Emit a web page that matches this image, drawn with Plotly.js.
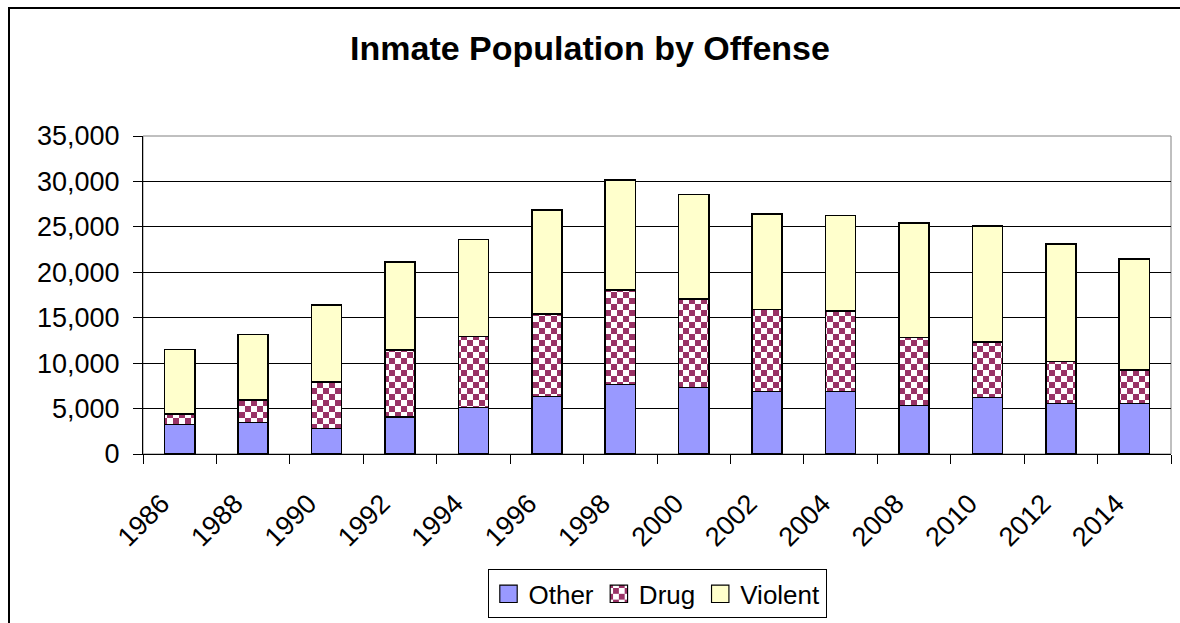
<!DOCTYPE html>
<html>
<head>
<meta charset="utf-8">
<script src="https://cdn.plot.ly/plotly-3.0.1.min.js"></script>
<style>
  html, body { margin: 0; padding: 0; background: #fff; overflow: hidden; }
  #wrap { position: relative; width: 1180px; height: 623px; }
  #chart { width: 1180px; height: 623px; }
  #frame { position: absolute; left: 8px; top: 7px; width: 1300px; height: 800px;
           border-left: 2px solid #000; border-top: 2px solid #000; pointer-events: none; }
</style>
</head>
<body>
<svg width="0" height="0" style="position:absolute">
  <defs>
    <pattern id="checker" patternUnits="userSpaceOnUse" width="12" height="12">
      <rect x="0" y="0" width="12" height="12" fill="#ffffff"></rect>
      <rect x="0" y="0" width="6" height="6" fill="#993366"></rect>
      <rect x="6" y="6" width="6" height="6" fill="#993366"></rect>
    </pattern>
    <pattern id="checkerSmall" patternUnits="userSpaceOnUse" width="8" height="8">
      <rect x="0" y="0" width="8" height="8" fill="#ffffff"></rect>
      <rect x="0" y="0" width="4" height="4" fill="#993366"></rect>
      <rect x="4" y="4" width="4" height="4" fill="#993366"></rect>
    </pattern>
  </defs>
</svg>
<div id="wrap">
  <div id="chart"></div>
  <div id="frame"></div>
</div>
<script>
const years = ['1986','1988','1990','1992','1994','1996','1998','2000','2002','2004','2008','2010','2012','2014'];
const other   = [3270, 3450, 2790, 4075, 5100, 6355, 7675, 7345, 6865, 6865, 5365, 6205, 5585, 5585];
const drug    = [1130, 2500, 5110, 7385, 7825, 9035, 10355, 9730, 9035, 8890, 7450, 6100, 4585, 3635];
const violent = [7090, 7190, 8515, 9690, 10685, 11490, 12120, 11460, 10505, 10500, 12600, 12780, 12965, 12260];

const FONT = 'Liberation Sans, Arial, sans-serif';
const outline = { color: '#000000', width: 1.5 };

const traces = [
  { type: 'bar', name: 'Other', x: years, y: other,
    marker: { color: '#9999FF', line: outline } },
  { type: 'bar', name: 'Drug', x: years, y: drug,
    marker: { color: '#993366', line: outline } },
  { type: 'bar', name: 'Violent', x: years, y: violent,
    marker: { color: '#FFFFCC', line: outline } }
];

const layout = {
  width: 1180, height: 623,
  margin: { l: 143, r: 9, t: 136, b: 169 },
  paper_bgcolor: '#ffffff', plot_bgcolor: '#ffffff',
  barmode: 'stack', bargap: 0.59,
  font: { family: FONT, color: '#000000', size: 27 },
  title: { text: '<b>Inmate Population by Offense</b>', font: { family: FONT, size: 34, color: '#000' },
           x: 0.5, xanchor: 'center', y: 0.942, yanchor: 'top', yref: 'container' },
  xaxis: {
    type: 'category', tickangle: -45, tickson: 'boundaries',
    ticks: 'outside', ticklen: 9, tickcolor: '#000', tickwidth: 1,
    showline: true, linecolor: '#000', linewidth: 1,
    showgrid: false, tickfont: { family: FONT, size: 27, color: '#000' },
    ticklabelstandoff: 22, ticklabelshift: -18
  },
  yaxis: {
    range: [0, 35000], dtick: 5000, tickformat: ',',
    ticks: 'outside', ticklen: 9, tickcolor: '#000', tickwidth: 1,
    showline: true, linecolor: '#000', linewidth: 1,
    showgrid: true, gridcolor: '#000', gridwidth: 1, zeroline: false,
    tickfont: { family: FONT, size: 27, color: '#000' }, ticklabelstandoff: 8
  },
  shapes: [
    { type: 'rect', xref: 'paper', yref: 'paper', x0: 0, x1: 1, y0: 0, y1: 1,
      line: { color: '#808080', width: 1 }, layer: 'below' }
  ],
  showlegend: true,
  legend: {
    orientation: 'h', x: 0.5, xanchor: 'center',
    yref: 'container', y: 0.086, yanchor: 'top',
    traceorder: 'normal', bordercolor: '#000', borderwidth: 1, bgcolor: '#fff',
    font: { family: FONT, size: 26, color: '#000' }
  }
};

Plotly.newPlot('chart', traces, layout, { staticPlot: true, displayModeBar: false }).then(function (gd) {
  const barTraces = gd.querySelectorAll('.barlayer .trace');
  if (barTraces[1]) {
    barTraces[1].querySelectorAll('path').forEach(function (p) { p.style.fill = 'url(#checker)'; });
  }
  const legTraces = gd.querySelectorAll('.legend .traces');
  legTraces.forEach(function (t, i) {
    t.querySelectorAll('.legendpoints path').forEach(function (p) {
      const tr = p.getAttribute('transform') || '';
      p.setAttribute('transform', tr + ' scale(1.45)');
      p.style.strokeWidth = '0.8px';
      if (i === 1) p.style.fill = 'url(#checkerSmall)';
    });
  });
});
</script>
</body>
</html>
